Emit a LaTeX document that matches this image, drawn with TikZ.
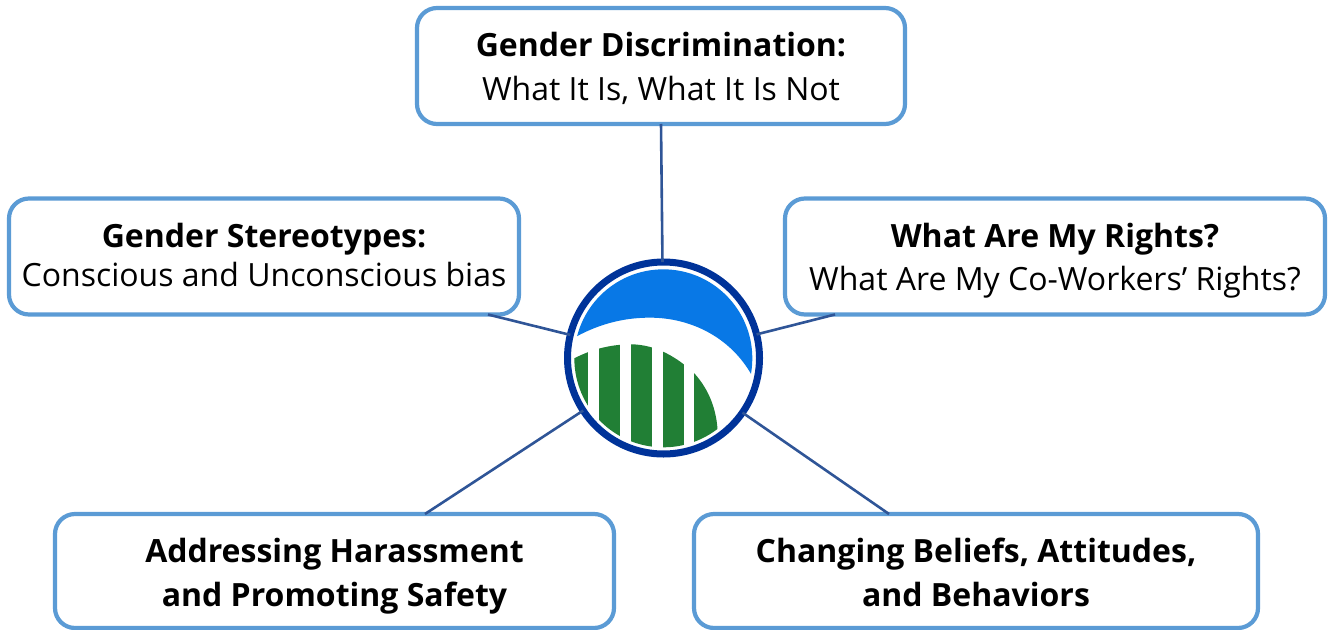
\documentclass[tikz,border=0pt]{standalone}
\usepackage{fontspec}
\setmainfont{Open Sans}
\definecolor{boxblue}{HTML}{5B9BD5}
\definecolor{linkblue}{HTML}{2F5597}
\definecolor{ringblue}{HTML}{003399}
\definecolor{logoblue}{HTML}{0878E6}
\definecolor{logogreen}{HTML}{217F35}
\newcommand{\topstrut}[1]{\rule{0pt}{#1pt}}
\newcommand{\botstrut}{\rule[-12pt]{0pt}{12pt}}
\tikzset{
  topicbox/.style={draw=boxblue,line width=4.2pt,rounded corners=20pt,fill=white,align=center,inner sep=0pt,outer sep=0pt,text=black,font=\fontsize{32}{44}\selectfont},
  link/.style={draw=linkblue,line width=2.6pt},
  ring/.style={circle,draw=ringblue,line width=7pt,fill=white,inner sep=0pt,outer sep=0pt,minimum size=192pt}
}
\begin{document}
\begin{tikzpicture}[x=1pt,y=-1pt]
\useasboundingbox (0,0) rectangle (1332,629);
\node[topicbox,minimum width=488pt,minimum height=116pt] (disc) at (661,66) {\topstrut{36}\textbf{Gender Discrimination:}\\What It Is, What It Is Not\botstrut};
\node[topicbox,minimum width=510pt,minimum height=116pt,font=\fontsize{32}{39}\selectfont] (stereo) at (264,256.5) {\topstrut{32}\textbf{Gender Stereotypes:}\\Conscious and Unconscious bias\botstrut};
\node[topicbox,minimum width=540pt,minimum height=116pt,font=\fontsize{32}{43}\selectfont] (rights) at (1055,256.5) {\topstrut{36}\textbf{What Are My Rights?}\\What Are My Co-Workers’ Rights?\botstrut};
\node[topicbox,minimum width=559pt,minimum height=114pt] (harass) at (334.5,571) {\topstrut{38}\textbf{Addressing Harassment}\\\textbf{and Promoting Safety}\botstrut};
\node[topicbox,minimum width=564pt,minimum height=114pt] (beliefs) at (976,571) {\topstrut{38}\textbf{Changing Beliefs, Attitudes,}\\\textbf{and Behaviors}\botstrut};
\node[ring] (logo) at (663.5,358) {};
\draw[link] (disc.south) -- (logo);
\draw[link] ([xshift=224pt]stereo.south) -- (logo);
\draw[link] ([xshift=-220pt]rights.south) -- (logo);
\draw[link] ([xshift=90.5pt]harass.north) -- (logo);
\draw[link] ([xshift=-87pt]beliefs.north) -- (logo);
\begin{scope}[shift={(550,250)},x=0.3333pt,y=-0.3333pt]
  \begin{scope}
    \clip (340,325) circle[radius=267];
    \fill[logoblue] (82,258) .. controls (150,222) and (220,203) .. (300,203)
      .. controls (420,203) and (540,260) .. (605,375) -- (650,470) -- (700,470) -- (700,0) -- (0,0) -- (0,300) -- cycle;
    \clip (50,300) -- (73,325) .. controls (130,295) and (190,283) .. (242,283)
      .. controls (320,283) and (385,325) .. (433,370)
      .. controls (478,420) and (500,480) .. (503,545) -- (520,650) -- (40,650) -- cycle;
    \fill[logogreen] (60,270) rectangle (113,620);
    \fill[logogreen] (146,270) rectangle (209,620);
    \fill[logogreen] (242,270) rectangle (305,620);
    \fill[logogreen] (338,270) rectangle (401,620);
    \fill[logogreen] (433,270) rectangle (520,620);
  \end{scope}
\end{scope}
\end{tikzpicture}
\end{document}
